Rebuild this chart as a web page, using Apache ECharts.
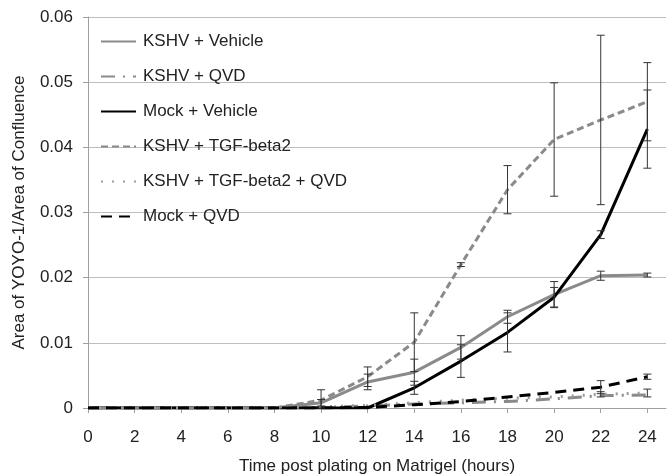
<!DOCTYPE html>
<html>
<head>
<meta charset="utf-8">
<script src="https://cdn.jsdelivr.net/npm/echarts@6/dist/echarts.min.js"></script>
<style>
  html, body { margin: 0; padding: 0; background: #fff; }
  #chart { width: 672px; height: 476px; }
</style>
</head>
<body>
<div id="chart"></div>
<script>
const hours = [0, 2, 4, 6, 8, 10, 12, 14, 16, 18, 20, 22, 24]

const kshvVehicle = [0, 0, 0, 0, 0, 0.0008, 0.004, 0.0055, 0.0093, 0.014, 0.0174, 0.0203, 0.0204]
const kshvQvd = [0, 0, 0, 0, 0, 0.0001, 0.0003, 0.0006, 0.0008, 0.001, 0.0014, 0.0019, 0.002]
const mockVehicle = [0, 0, 0, 0, 0, 0, 0, 0.0031, 0.0072, 0.0116, 0.017, 0.0266, 0.0428]
const kshvTgf = [0, 0, 0, 0, 0, 0.0012, 0.0048, 0.0101, 0.022, 0.0335, 0.0412, 0.0442, 0.047]
const kshvTgfQvd = [0, 0, 0, 0, 0, 0.0002, 0.0004, 0.0008, 0.0012, 0.0015, 0.0017, 0.0021, 0.0023]
const mockQvd = [0, 0, 0, 0, 0, 0, 0.0001, 0.0005, 0.001, 0.0017, 0.0024, 0.0032, 0.0048]

// +/- error per time point (null = no bar)
const errKshvVehicle = [null, null, null, null, null, 0.0005, 0.0012, 0.002, 0.0018, 0.001, 0.002, 0.0007, 0.0003]
const errMockVehicle = [null, null, null, null, null, null, null, 0.001, 0.0025, 0.003, 0.0015, 0.0006, 0.006]
const errKshvTgf = [null, null, null, null, null, 0.0016, 0.0015, 0.0045, 0.0003, 0.0037, 0.0087, 0.013, 0.006]
const errKshvTgfQvd = [null, null, null, null, null, null, null, null, null, null, null, 0.0004, 0.0006]
const errMockQvd = [null, null, null, null, null, null, null, null, null, null, null, 0.001, 0.0004]

const xTicks = [0, 2, 4, 6, 8, 10, 12, 14, 16, 18, 20, 22, 24]
const yTicks = [0, 0.01, 0.02, 0.03, 0.04, 0.05, 0.06]

const pairs = vals => hours.map((h, i) => [h, vals[i]])

const errorData = []
;[[kshvVehicle, errKshvVehicle], [mockVehicle, errMockVehicle], [kshvTgf, errKshvTgf],
  [kshvTgfQvd, errKshvTgfQvd], [mockQvd, errMockQvd]].forEach(([vals, errs]) => {
  errs.forEach((e, i) => {
    if (e != null) errorData.push([hours[i], Math.max(0, vals[i] - e), vals[i] + e])
  })
})

const chart = echarts.init(document.getElementById('chart'), null, { renderer: 'canvas' })

const gray = '#8a8a8a'
const lineSeries = (name, vals, color, width, type) => ({
  name,
  type: 'line',
  data: pairs(vals),
  showSymbol: false,
  symbol: 'none',
  lineStyle: { color, width, type },
  itemStyle: { color },
  z: 3,
})

chart.setOption({
  animation: false,
  textStyle: { fontFamily: 'Liberation Sans, Arial, sans-serif' },
  grid: { left: 88, right: 6, top: 17, bottom: 68, outerBoundsMode: 'none' },
  legend: {
    orient: 'vertical',
    left: 95,
    top: 28,
    itemWidth: 35,
    itemHeight: 14,
    itemGap: 18,
    itemStyle: { opacity: 0 },
    textStyle: { fontSize: 17, color: '#222', padding: [0, 0, 0, 2] },
    data: ['KSHV + Vehicle', 'KSHV + QVD', 'Mock + Vehicle', 'KSHV + TGF-beta2', 'KSHV + TGF-beta2 + QVD', 'Mock + QVD'],
  },
  xAxis: {
    type: 'value',
    min: 0,
    max: 24.8,
    interval: 2,
    name: 'Time post plating on Matrigel (hours)',
    nameLocation: 'middle',
    nameGap: 50,
    nameTextStyle: { fontSize: 17, color: '#222' },
    axisLine: { lineStyle: { color: '#a0a0a0', width: 1 } },
    axisTick: { show: true, length: 5, lineStyle: { color: '#a0a0a0' } },
    axisLabel: {
      fontSize: 17, color: '#222', margin: 21,
      showMaxLabel: false,
      formatter: v => (xTicks.includes(v) ? String(v) : ''),
    },
    splitLine: { show: false },
  },
  yAxis: {
    type: 'value',
    min: 0,
    max: 0.06,
    interval: 0.01,
    name: 'Area of YOYO-1/Area of Confluence',
    nameLocation: 'middle',
    nameGap: 60,
    nameTextStyle: { fontSize: 17, color: '#222' },
    axisLine: { show: true, lineStyle: { color: '#a0a0a0', width: 1 } },
    axisTick: { show: true, length: 5, lineStyle: { color: '#a0a0a0' } },
    axisLabel: {
      fontSize: 17, color: '#222', margin: 15,
      formatter: v => String(yTicks.find(t => Math.abs(t - v) < 1e-9) ?? v),
    },
    splitLine: { show: true, lineStyle: { color: '#bdbdbd', width: 1 } },
  },
  series: [
    lineSeries('KSHV + Vehicle', kshvVehicle, gray, 3, 'solid'),
    lineSeries('KSHV + QVD', kshvQvd, gray, 3, [14, 8, 2, 8]),
    lineSeries('Mock + Vehicle', mockVehicle, '#000', 3, 'solid'),
    lineSeries('KSHV + TGF-beta2', kshvTgf, gray, 3, [7, 4]),
    lineSeries('KSHV + TGF-beta2 + QVD', kshvTgfQvd, '#9a9a9a', 3, [2, 9]),
    lineSeries('Mock + QVD', mockQvd, '#000', 3, [11, 7]),
    {
      name: 'errors',
      type: 'custom',
      data: errorData,
      z: 4,
      renderItem: (params, api) => {
        const x = api.value(0)
        const lo = api.coord([x, api.value(1)])
        const hi = api.coord([x, api.value(2)])
        const cap = 4
        const style = { stroke: '#333', lineWidth: 1 }
        return {
          type: 'group',
          children: [
            { type: 'line', shape: { x1: lo[0], y1: lo[1], x2: hi[0], y2: hi[1] }, style },
            { type: 'line', shape: { x1: lo[0] - cap, y1: lo[1], x2: lo[0] + cap, y2: lo[1] }, style },
            { type: 'line', shape: { x1: hi[0] - cap, y1: hi[1], x2: hi[0] + cap, y2: hi[1] }, style },
          ],
        }
      },
    },
  ],
})
</script>
</body>
</html>
